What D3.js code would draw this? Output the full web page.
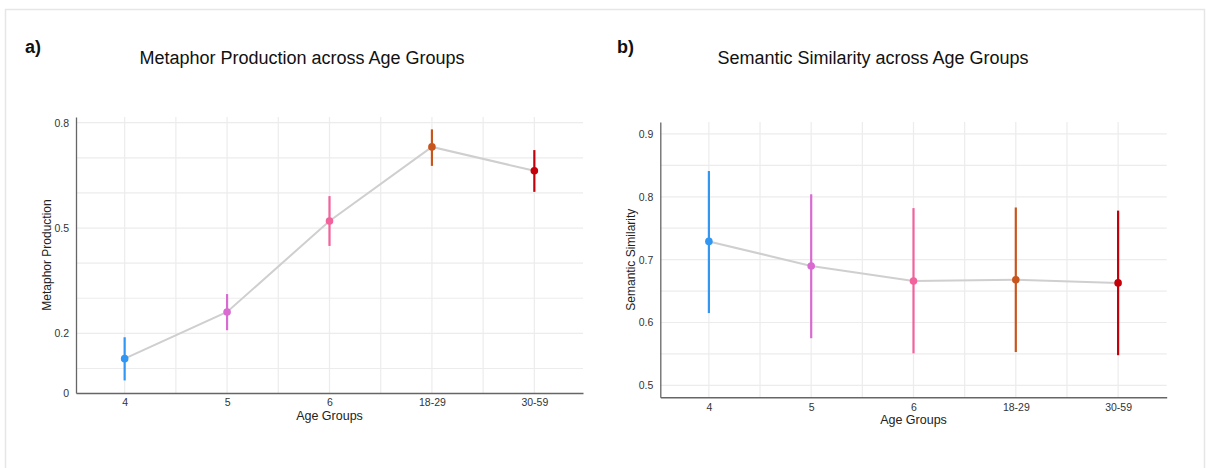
<!DOCTYPE html>
<html><head><meta charset="utf-8">
<script src="https://cdn.jsdelivr.net/npm/d3@7"></script>
<style>body{margin:0;background:#fff;} svg{display:block;font-family:"Liberation Sans",Arial,sans-serif;}</style>
</head><body><svg id="c" width="1206" height="468"></svg>
<script>
const categories = ["4","5","6","18-29","30-59"];
const colors = ["#3197f2","#d86ad2","#f2629c","#c8561c","#c4000a"];
// Panel a: Metaphor Production
const metaMean = [0.128,0.261,0.520,0.731,0.663];
const metaLow  = [0.066,0.209,0.449,0.677,0.603];
const metaHigh = [0.189,0.312,0.591,0.781,0.722];
const metaTicks = [0.03,0.2,0.5,0.8];
const metaTickLabels = ["0","0.2","0.5","0.8"];
const metaGrid = [0.1,0.2,0.3,0.4,0.5,0.6,0.7,0.8];
// Panel b: Semantic Similarity
const semMean = [0.729,0.690,0.666,0.668,0.663];
const semLow  = [0.615,0.575,0.551,0.553,0.548];
const semHigh = [0.841,0.804,0.782,0.783,0.778];
const semTicks = [0.5,0.6,0.7,0.8,0.9];
const semTickLabels = ["0.5","0.6","0.7","0.8","0.9"];
const semGrid = [0.5,0.55,0.6,0.65,0.7,0.75,0.8,0.85,0.9];

const svg = d3.select("#c");
// outer frame
svg.append("rect").attr("x",5.5).attr("y",9.5).attr("width",1199).attr("height",470)
  .attr("fill","none").attr("stroke","#e6e6e6").attr("stroke-width",1.5);

function panel(o){
  const g = svg.append("g");
  const x = d3.scalePoint().domain(categories).range([o.x0,o.x1]).padding(0.475);
  const y = d3.scaleLinear().domain(o.domain).range([o.y1,o.y0]);
  const step = x.step();
  // grid
  o.grid.forEach(v=>{
    g.append("line").attr("x1",o.x0).attr("x2",o.x1).attr("y1",y(v)).attr("y2",y(v))
      .attr("stroke","#ececec").attr("stroke-width",1.2);
  });
  categories.forEach((c,i)=>{
    g.append("line").attr("x1",x(c)).attr("x2",x(c)).attr("y1",o.y0).attr("y2",o.y1)
      .attr("stroke","#ececec").attr("stroke-width",1.2);
    if(i<categories.length-1){
      const m = x(c)+step/2;
      g.append("line").attr("x1",m).attr("x2",m).attr("y1",o.y0).attr("y2",o.y1)
        .attr("stroke","#ececec").attr("stroke-width",1.2);
    }
  });
  // axes
  const ya = d3.axisLeft(y).tickValues(o.ticks).tickSize(0).tickPadding(7)
    .tickFormat((d,i)=>o.tickLabels[i]);
  const yg = g.append("g").attr("transform",`translate(${o.x0},0)`).call(ya);
  yg.select(".domain").attr("stroke","#666").attr("stroke-width",1.3);
  yg.selectAll("text").attr("font-size",10.5).attr("fill","#333").attr("font-family","Liberation Sans, Arial, sans-serif");
  const xa = d3.axisBottom(x).tickSize(0).tickPadding(6);
  const xg = g.append("g").attr("transform",`translate(0,${o.y1})`).call(xa);
  xg.select(".domain").attr("stroke","#666").attr("stroke-width",1.5);
  xg.selectAll("text").attr("font-size",10.5).attr("fill","#333").attr("font-family","Liberation Sans, Arial, sans-serif");
  // labels
  g.append("text").attr("x",(o.x0+o.x1)/2).attr("y",o.y1+27).attr("text-anchor","middle")
    .attr("font-size",12.5).attr("fill","#222").text("Age Groups");
  g.append("text").attr("transform",`translate(${o.ylabX},${(o.y0+o.y1)/2}) rotate(-90)`)
    .attr("text-anchor","middle").attr("dy","0.35em").attr("font-size",12).attr("fill","#222").text(o.ylabel);
  g.append("text").attr("x",o.titleX).attr("y",64).attr("text-anchor","middle")
    .attr("font-size",18).attr("fill","#111").text(o.title);
  g.append("text").attr("x",o.tagX).attr("y",53).attr("font-size",18).attr("font-weight","bold")
    .attr("fill","#111").text(o.tag);
  // line
  const line = d3.line().x((d,i)=>x(categories[i])).y(d=>y(d));
  g.append("path").datum(o.mean).attr("d",line).attr("fill","none")
    .attr("stroke","#cfcfcf").attr("stroke-width",2);
  // error bars
  categories.forEach((c,i)=>{
    g.append("line").attr("x1",x(c)).attr("x2",x(c)).attr("y1",y(o.low[i])).attr("y2",y(o.high[i]))
      .attr("stroke",colors[i]).attr("stroke-width",2.2);
    g.append("circle").attr("cx",x(c)).attr("cy",y(o.mean[i])).attr("r",3.8).attr("fill",colors[i]);
  });
}

panel({x0:76,x1:583,y0:117,y1:393,domain:[0.0302,0.8162],grid:metaGrid,ticks:metaTicks,tickLabels:metaTickLabels,
  mean:metaMean,low:metaLow,high:metaHigh,ylabel:"Metaphor Production",ylabX:46.5,
  title:"Metaphor Production across Age Groups",titleX:302,tag:"a)",tagX:25});
panel({x0:660.3,x1:1166.7,y0:122,y1:397.3,domain:[0.481,0.919],grid:semGrid,ticks:semTicks,tickLabels:semTickLabels,
  mean:semMean,low:semLow,high:semHigh,ylabel:"Semantic Similarity",ylabX:631,
  title:"Semantic Similarity across Age Groups",titleX:873,tag:"b)",tagX:617});
</script></body></html>
